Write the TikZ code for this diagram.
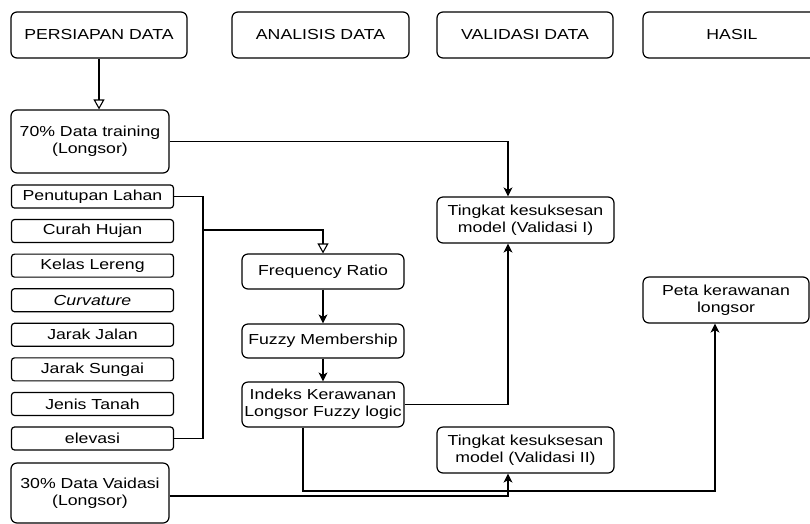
\documentclass[tikz,border=0pt]{standalone}
\usepackage{fontspec}
\setmainfont{Liberation Sans}[FakeStretch=1.22]
\usetikzlibrary{arrows.meta}
\tikzset{
  box/.style={draw, rounded corners=6pt, line width=1.2pt, align=center, inner sep=0pt},
  inbox/.style={draw, rounded corners=3pt, line width=1.2pt, minimum width=162pt, minimum height=23pt, inner sep=0pt},
  arr/.style={-{Stealth[length=9pt,width=9pt,inset=2.5pt]}},
  openarr/.style={-{Triangle[open,length=10pt,width=11pt,line width=1.1pt]}},
}

\begin{document}
\begin{tikzpicture}[x=1pt,y=-1pt,line width=1.2pt,font=\fontsize{14.5}{17}\selectfont]
\useasboundingbox (0,0) rectangle (810,523);

% column heads
\node[box, minimum width=176pt, minimum height=46pt] (persiapan) at (99,35) {PERSIAPAN DATA};
\node[box, minimum width=177pt, minimum height=46pt] (analisis) at (320.5,35) {ANALISIS DATA};
\node[box, minimum width=176pt, minimum height=46pt] (validasi) at (525,35) {VALIDASI DATA};
\node[box, minimum width=178pt, minimum height=46pt] (hasil) at (732,35) {HASIL};

\node[box, minimum width=158pt, minimum height=63pt] (train) at (90,141.5) {70\% Data training\\(Longsor)};
\node[box, minimum width=158pt, minimum height=60pt] (test) at (90,493) {30\% Data Vaidasi\\(Longsor)};

% input layers
\foreach \txt [count=\i] in {Penutupan Lahan, Curah Hujan, Kelas Lereng, \textit{Curvature}, Jarak Jalan, Jarak Sungai, Jenis Tanah, elevasi}{
	\node[inbox] (in\i) at (92.5, 196.5+34.57*\i-34.57) {\txt};
}

\node[box, minimum width=162pt, minimum height=35pt] (fr) at (323,271.5) {Frequency Ratio};
\node[box, minimum width=162pt, minimum height=34pt] (fm) at (323,341) {Fuzzy Membership};
\node[box, minimum width=162pt, minimum height=45pt] (ik) at (323,404.5) {Indeks Kerawanan\\Longsor Fuzzy logic};

\node[box, minimum width=177pt, minimum height=46pt] (v1) at (525.5,220) {Tingkat kesuksesan\\model (Validasi I)};
\node[box, minimum width=177pt, minimum height=46pt] (v2) at (525.5,450) {Tingkat kesuksesan\\model (Validasi II)};
\node[box, minimum width=166pt, minimum height=46pt] (peta) at (726,300) {Peta kerawanan\\longsor};

\coordinate (bus) at (203,230);
\coordinate (vx) at (508,0);
\coordinate (low) at (715,491);

\draw[openarr] (persiapan.south) -- (persiapan.south |- train.north);
\draw[arr] (train.east) -| (vx |- v1.north);
\draw (in1.east) -| (bus |- in8.east) -- (in8.east);
\draw[openarr] (bus) -| (fr.north);
\draw[arr] (fr) -- (fm);
\draw[arr] (fm) -- (ik);
\draw[arr] (ik.east) -| (vx |- v1.south);
\draw[arr] ([xshift=-20pt]ik.south) |- (low) -- (low |- peta.south);
\draw[arr] ([yshift=-3pt]test.east) -| (vx |- v2.south);
\end{tikzpicture}
\end{document}
